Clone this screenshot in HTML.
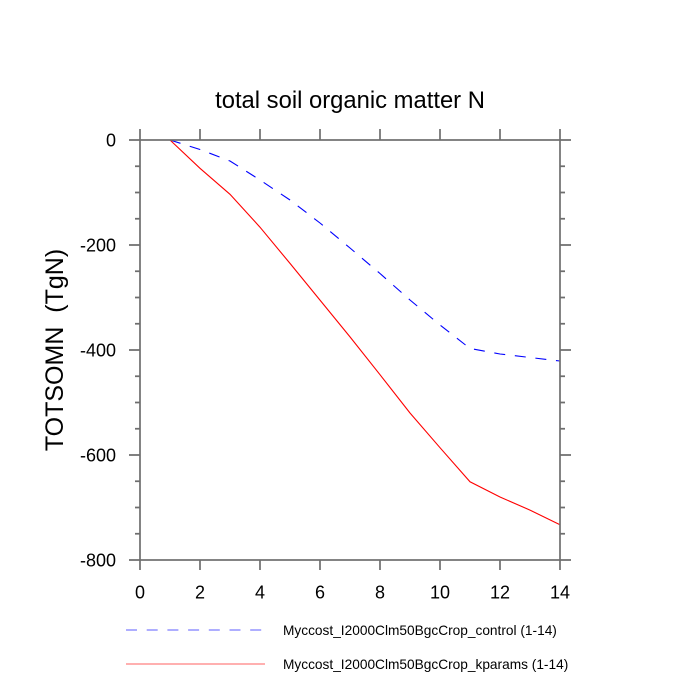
<!DOCTYPE html>
<html>
<head>
<meta charset="utf-8">
<style>
  html, body { margin: 0; padding: 0; background: #ffffff; }
  svg { display: block; }
  text { font-family: "Liberation Sans", Arial, sans-serif; fill: #000; }
</style>
</head>
<body>
<svg width="700" height="700" viewBox="0 0 700 700" xmlns="http://www.w3.org/2000/svg">
  <rect x="0" y="0" width="700" height="700" fill="#ffffff"/>

  <!-- Title -->
  <text x="350" y="108" font-size="23.8" text-anchor="middle">total soil organic matter N</text>

  <!-- Y axis label -->
  <text transform="translate(63,350) rotate(-90)" font-size="25" text-anchor="middle" xml:space="preserve">TOTSOMN  (TgN)</text>

  <!-- Data: control (blue dashed) -->
  <polyline fill="none" stroke="#0000ff" stroke-width="1.1" stroke-dasharray="11 9.7"
    points="170,140 200,149.5 230,161 260,180 290,200 320,223 350,248 380,273.5 410,300 440,325 470,348.5 500,354 530,357.5 560,361"/>

  <!-- Data: kparams (red solid) -->
  <polyline fill="none" stroke="#ff0000" stroke-width="1.1"
    points="170,140 200,168.3 230,194.3 260,227.2 290,263.4 320,300.1 350,336.9 380,374.7 410,413 440,447.7 470,481.8 500,497 530,510.1 560,524.8"/>

  <!-- Axes frame -->
  <g stroke="#6e6e6e" stroke-width="1.7" fill="none">
    <rect x="140" y="140" width="420" height="420"/>
    <!-- bottom & top major ticks -->
    <path d="M140,560V570 M200,560V570 M260,560V570 M320,560V570 M380,560V570 M440,560V570 M500,560V570 M560,560V570"/>
    <path d="M140,140V129 M200,140V129 M260,140V129 M320,140V129 M380,140V129 M440,140V129 M500,140V129 M560,140V129"/>
    <!-- left major ticks -->
    <path d="M140,140H129 M140,245H129 M140,350H129 M140,455H129 M140,560H129"/>
    <!-- right major ticks -->
    <path d="M560,140H571 M560,245H571 M560,350H571 M560,455H571 M560,560H571"/>
    <!-- left minor ticks -->
    <path d="M140,166.25H135 M140,192.5H135 M140,218.75H135 M140,271.25H135 M140,297.5H135 M140,323.75H135 M140,376.25H135 M140,402.5H135 M140,428.75H135 M140,481.25H135 M140,507.5H135 M140,533.75H135"/>
    <!-- right minor ticks -->
    <path d="M560,166.25H565 M560,192.5H565 M560,218.75H565 M560,271.25H565 M560,297.5H565 M560,323.75H565 M560,376.25H565 M560,402.5H565 M560,428.75H565 M560,481.25H565 M560,507.5H565 M560,533.75H565"/>
  </g>

  <!-- Y tick labels -->
  <g font-size="18" text-anchor="end">
    <text x="116" y="146.5">0</text>
    <text x="116" y="251.5">-200</text>
    <text x="116" y="356.5">-400</text>
    <text x="116" y="461.5">-600</text>
    <text x="116" y="566.5">-800</text>
  </g>

  <!-- X tick labels -->
  <g font-size="18" text-anchor="middle">
    <text x="140" y="598.5">0</text>
    <text x="200" y="598.5">2</text>
    <text x="260" y="598.5">4</text>
    <text x="320" y="598.5">6</text>
    <text x="380" y="598.5">8</text>
    <text x="440" y="598.5">10</text>
    <text x="500" y="598.5">12</text>
    <text x="560" y="598.5">14</text>
  </g>

  <!-- Legend -->
  <line x1="126" y1="630" x2="262" y2="630" stroke="#9494ff" stroke-width="1.5" stroke-dasharray="11 9.7"/>
  <line x1="126" y1="664" x2="265" y2="664" stroke="#ff9696" stroke-width="1.5"/>
  <g font-size="13.7">
    <text x="283" y="635">Myccost_I2000Clm50BgcCrop_control (1-14)</text>
    <text x="283" y="669">Myccost_I2000Clm50BgcCrop_kparams (1-14)</text>
  </g>
</svg>
</body>
</html>
